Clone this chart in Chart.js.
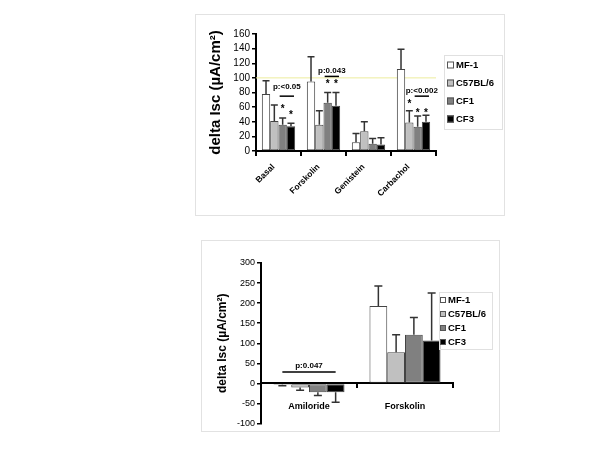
<!DOCTYPE html>
<html>
<head>
<meta charset="utf-8">
<script src="https://cdn.jsdelivr.net/npm/chart.js@4/dist/chart.umd.min.js"></script>
<style>
  body { margin: 0; background: #fff; width: 600px; height: 450px; position: relative; overflow: hidden; }
  .panel { position: absolute; border: 1px solid #e2e2e2; background: #fff; }
  #p1 { left: 195px; top: 14px; width: 308px; height: 200px; }
  #p2 { left: 201px; top: 240px; width: 297px; height: 190px; }
  canvas { display: block; }
</style>
</head>
<body>
<div class="panel" id="p1"><canvas id="chart1" width="308" height="200"></canvas></div>
<div class="panel" id="p2"><canvas id="chart2" width="297" height="190"></canvas></div>
<script>
const seriesNames = ['MF-1', 'C57BL/6', 'CF1', 'CF3'];
const seriesColors = ['#ffffff', '#c0c0c0', '#808080', '#000000'];

// top panel
const categories1 = ['Basal', 'Forskolin', 'Genistein', 'Carbachol'];
const mf1Top = [78, 95, 12, 112];
const c57Top = [41, 36, 27, 39];
const cf1Top = [36, 66, 10, 33];
const cf3Top = [34, 62, 9, 40];
const mf1TopErr = [18, 34, 12, 27];
const c57TopErr = [22, 19, 13, 16];
const cf1TopErr = [9, 14, 7, 15];
const cf3TopErr = [4, 18, 9, 9];
const yTicks1 = [0, 160, 20];
const refLine1 = 100;
const pText1 = ['p:<0.05', 'p:0.043', 'p:<0.002'];
const pCat1 = [0, 1, 3];
const pTextVal1 = [88, 109, 82];
const pLineVal1 = [75, 102, 75];
const starSeries1 = [2, 3, 2, 3, 1, 2, 3];
const starCat1 = [0, 0, 1, 1, 3, 3, 3];
const starVal1 = [60, 52, 94, 94, 66, 55, 55];

// bottom panel
const categories2 = ['Amiloride', 'Forskolin'];
const mf1Bot = [-3, 193];
const c57Bot = [-10, 78];
const cf1Bot = [-22, 121];
const cf3Bot = [-22, 107];
const mf1BotErr = [3, 50];
const c57BotErr = [7, 43];
const cf1BotErr = [8, 43];
const cf3BotErr = [25, 118];
const yTicks2 = [-100, 300, 50];
const pText2 = ['p:0.047'];
const pCat2 = [0];
const pTextVal2 = [43];
const pLineVal2 = [28.5];

const FONT = 'Arial, "Liberation Sans", sans-serif';

// half error bars (cap on the far end only)
const errorBars = {
  id: 'errorBars',
  afterDatasetsDraw(chart, args, opts) {
    const ctx = chart.ctx, y = chart.scales.y;
    ctx.save();
    ctx.strokeStyle = opts.color;
    ctx.lineWidth = opts.width;
    chart.data.datasets.forEach((ds, i) => {
      chart.getDatasetMeta(i).data.forEach((bar, j) => {
        const v = ds.data[j], e = opts.errors[i][j];
        const y1 = y.getPixelForValue(v + (v < 0 ? -e : e));
        ctx.beginPath();
        ctx.moveTo(bar.x, bar.y);
        ctx.lineTo(bar.x, y1);
        ctx.moveTo(bar.x - opts.cap, y1);
        ctx.lineTo(bar.x + opts.cap, y1);
        ctx.stroke();
      });
    });
    ctx.restore();
  }
};

// reference line, p-values and asterisks
const notes = {
  id: 'notes',
  beforeDatasetsDraw(chart, args, opts) {
    if (opts.refLine == null) return;
    const ctx = chart.ctx, a = chart.chartArea;
    const yy = chart.scales.y.getPixelForValue(opts.refLine);
    ctx.save();
    ctx.strokeStyle = '#ecec9c';
    ctx.lineWidth = 1;
    ctx.beginPath();
    ctx.moveTo(a.left, yy);
    ctx.lineTo(a.right, yy);
    ctx.stroke();
    ctx.restore();
  },
  afterDatasetsDraw(chart, args, opts) {
    const ctx = chart.ctx, y = chart.scales.y;
    const barX = (ds, c) => chart.getDatasetMeta(ds).data[c].x;
    ctx.save();
    ctx.fillStyle = '#000';
    ctx.strokeStyle = '#000';
    ctx.lineWidth = 1.5;
    ctx.textAlign = 'center';
    ctx.textBaseline = 'middle';
    ctx.font = 'bold ' + opts.fontSize + 'px ' + FONT;
    opts.texts.forEach((t, k) => {
      const x0 = barX(opts.from, opts.cats[k]) - opts.ext;
      const x1 = barX(3, opts.cats[k]) + opts.ext;
      const ly = y.getPixelForValue(opts.lineVals[k]);
      ctx.beginPath();
      ctx.moveTo(x0, ly);
      ctx.lineTo(x1, ly);
      ctx.stroke();
      ctx.fillText(t, (x0 + x1) / 2, y.getPixelForValue(opts.textVals[k]));
    });
    ctx.font = 'bold 10px ' + FONT;
    (opts.stars || []).forEach(([ds, c, v]) => {
      ctx.fillText('*', barX(ds, c), y.getPixelForValue(v) + 2);
    });
    ctx.restore();
  }
};

// framed legend placed inside the panel
const boxLegend = {
  id: 'boxLegend',
  afterDraw(chart, args, o) {
    const ctx = chart.ctx;
    ctx.save();
    ctx.strokeStyle = '#e0e0e0';
    ctx.lineWidth = 1;
    ctx.strokeRect(o.frame[0] + 0.5, o.frame[1] + 0.5, o.frame[2], o.frame[3]);
    ctx.font = 'bold ' + o.fontSize + 'px ' + FONT;
    ctx.textBaseline = 'middle';
    chart.data.datasets.forEach((ds, i) => {
      const cy = o.y + i * o.step;
      ctx.fillStyle = ds.backgroundColor;
      ctx.fillRect(o.x, cy - o.box / 2, o.box, o.box);
      ctx.strokeStyle = '#555';
      ctx.strokeRect(o.x + 0.5, cy - o.box / 2 + 0.5, o.box - 1, o.box - 1);
      ctx.fillStyle = '#000';
      ctx.fillText(ds.label, o.textX, cy);
    });
    ctx.restore();
  }
};

function datasets(values) {
  return values.map((d, i) => ({
    label: seriesNames[i],
    data: d,
    backgroundColor: seriesColors[i],
    borderColor: '#444',
    borderWidth: 1,
    borderSkipped: false,
    barPercentage: 1,
    categoryPercentage: 0.74
  }));
}

function yAxis(ticks, tickSize, titleSize, titlePad, width) {
  return {
    min: ticks[0], max: ticks[1],
    ticks: { stepSize: ticks[2], autoSkip: false, color: '#000', font: { family: FONT, size: tickSize }, padding: 2 },
    grid: { drawOnChartArea: false, tickLength: 4, color: '#000', lineWidth: 1.5 },
    border: { color: '#000', width: 2 },
    title: { display: true, text: 'delta Isc (µA/cm²)', color: '#000',
             font: { family: FONT, size: titleSize, weight: 'bold' }, padding: { top: titlePad, bottom: 0 } },
    afterFit(s) { s.width = width; }
  };
}

new Chart(document.getElementById('chart1'), {
  type: 'bar',
  data: { labels: categories1, datasets: datasets([mf1Top, c57Top, cf1Top, cf3Top]) },
  plugins: [errorBars, notes, boxLegend],
  options: {
    responsive: false,
    animation: false,
    layout: { padding: { top: 19, right: 68, bottom: 0, left: 0 } },
    plugins: {
      legend: { display: false },
      tooltip: { enabled: false },
      errorBars: { errors: [mf1TopErr, c57TopErr, cf1TopErr, cf3TopErr], color: '#333', width: 1.5, cap: 3.5 },
      notes: {
        refLine: refLine1, texts: pText1, cats: pCat1, textVals: pTextVal1, lineVals: pLineVal1,
        from: 2, ext: 3, fontSize: 8,
        stars: starSeries1.map((s, k) => [s, starCat1[k], starVal1[k]])
      },
      boxLegend: { frame: [248, 40, 58, 74], x: 251, textX: 260, y: 50, step: 18, box: 7, fontSize: 9.5 }
    },
    scales: {
      x: {
        grid: { offset: true, drawOnChartArea: false, tickLength: 5, color: '#000', lineWidth: 2 },
        border: { color: '#000', width: 2 },
        ticks: { color: '#000', font: { family: FONT, size: 8.5, weight: 'bold' },
                 minRotation: 45, maxRotation: 45, autoSkip: false, padding: 6, labelOffset: -5 },
        afterFit(s) { s.height = 64; }
      },
      y: yAxis(yTicks1, 10, 15, 11, 60)
    }
  }
});

new Chart(document.getElementById('chart2'), {
  type: 'bar',
  data: { labels: categories2, datasets: datasets([mf1Bot, c57Bot, cf1Bot, cf3Bot]) },
  plugins: [errorBars, notes, boxLegend],
  options: {
    responsive: false,
    animation: false,
    layout: { padding: { top: 22, right: 46, bottom: 7, left: 0 } },
    plugins: {
      legend: { display: false },
      tooltip: { enabled: false },
      errorBars: { errors: [mf1BotErr, c57BotErr, cf1BotErr, cf3BotErr], color: '#333', width: 1.5, cap: 4 },
      notes: {
        texts: pText2, cats: pCat2, textVals: pTextVal2, lineVals: pLineVal2,
        from: 0, ext: 0, fontSize: 8
      },
      boxLegend: { frame: [237, 51, 53, 57], x: 238, textX: 246, y: 59, step: 14, box: 6, fontSize: 9.5 }
    },
    scales: {
      x: {
        position: { y: 0 },
        grid: { offset: true, drawOnChartArea: false, tickLength: 4, color: '#000', lineWidth: 2 },
        border: { color: '#000', width: 2 },
        ticks: { color: '#000', font: { family: FONT, size: 9, weight: 'bold' }, maxRotation: 0, padding: 14 }
      },
      y: yAxis(yTicks2, 9, 12, 13, 59)
    }
  }
});
</script>
</body>
</html>
